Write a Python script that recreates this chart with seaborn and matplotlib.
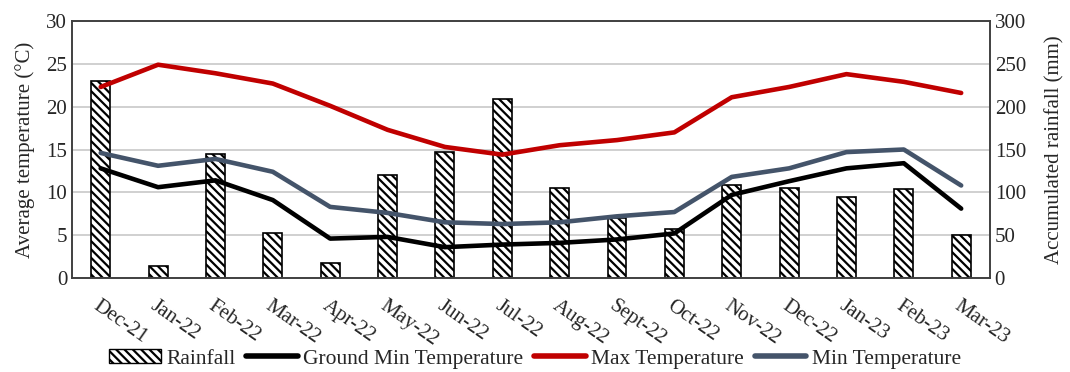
import numpy as np
import pandas as pd
import matplotlib
matplotlib.use("Agg")
import matplotlib.pyplot as plt
import seaborn as sns
from matplotlib.patches import Patch
from matplotlib.lines import Line2D

months = ["Dec-21", "Jan-22", "Feb-22", "Mar-22", "Apr-22", "May-22", "Jun-22", "Jul-22",
          "Aug-22", "Sept-22", "Oct-22", "Nov-22", "Dec-22", "Jan-23", "Feb-23", "Mar-23"]
rainfall = [230, 14, 145, 53, 18, 120, 147, 209, 105, 70, 57, 108, 105, 95, 104, 50]
ground_min = [12.8, 10.6, 11.4, 9.1, 4.6, 4.8, 3.6, 3.9, 4.1, 4.5, 5.2, 9.7, 11.3, 12.8, 13.4, 8.1]
max_temp = [22.3, 24.9, 23.9, 22.7, 20.1, 17.3, 15.3, 14.4, 15.5, 16.1, 17.0, 21.1, 22.3, 23.8, 22.9, 21.6]
min_temp = [14.6, 13.1, 13.9, 12.4, 8.3, 7.6, 6.5, 6.3, 6.5, 7.2, 7.7, 11.8, 12.8, 14.7, 15.0, 10.8]

sns.set_style("white")
plt.rcParams['font.family'] = ['Liberation Serif', 'DejaVu Serif']
plt.rcParams['hatch.linewidth'] = 1.6

df = pd.DataFrame({"month": months, "rain": rainfall, "ground": ground_min,
                   "tmax": max_temp, "tmin": min_temp})
df["pos"] = np.arange(len(months))

fig = plt.figure(figsize=(10.7, 3.72), dpi=100)
ax1 = fig.add_axes([0.0673, 0.2527, 0.8578, 0.6908])
ax2 = ax1.twinx()

# rainfall bars on the right axis, drawn below the lines
sns.barplot(data=df, x="month", y="rain", ax=ax2, color="white", edgecolor="black",
            linewidth=1.2, width=0.33, hatch="\\\\\\\\", saturation=1)
ax2.set_ylim(0, 300)
ax2.set_yticks(range(0, 301, 50))
ax2.yaxis.grid(True, color="#c8c8c8", linewidth=1.2)
ax2.set_axisbelow(True)
ax2.set_ylabel("Accumulated rainfall (mm)", fontsize=15, labelpad=14)
ax2.set_xlabel("")

line_colors = {"ground": "black", "tmax": "#C00000", "tmin": "#44546A"}
for col, c in line_colors.items():
    sns.lineplot(data=df, x="pos", y=col, ax=ax1, color=c, linewidth=3.3,
                 solid_joinstyle="round", solid_capstyle="round")

ax1.set_zorder(ax2.get_zorder() + 1)
ax1.patch.set_visible(False)
ax1.set_ylim(0, 30)
ax1.set_yticks(range(0, 31, 5))
ax1.set_ylabel("Average temperature (°C)", fontsize=15, labelpad=8)
ax1.set_xlabel("")
ax1.set_xlim(-0.5, len(months) - 0.5)

ax1.set_xticks(df["pos"])
ax1.set_xticklabels(months, rotation=-35, ha="left", rotation_mode="anchor", fontsize=15)
ax1.set_xticks(np.arange(-0.5, len(months)), minor=True)
ax1.tick_params(axis="x", which="major", length=0, pad=13)
ax1.tick_params(axis="x", which="minor", length=6, width=1, color="#404040", direction="out")
ax1.tick_params(axis="y", labelsize=15, length=0)
ax2.tick_params(axis="y", labelsize=15, length=0)
ax2.tick_params(axis="x", length=0, labelbottom=False)

for ax in (ax1, ax2):
    for s in ax.spines.values():
        s.set_color("#404040")
        s.set_linewidth(1.2)

handles = [Patch(facecolor="white", edgecolor="black", hatch="\\\\\\\\", label="Rainfall"),
           Line2D([], [], color="black", linewidth=4, solid_capstyle="round", label="Ground Min Temperature"),
           Line2D([], [], color="#C00000", linewidth=4, solid_capstyle="round", label="Max Temperature"),
           Line2D([], [], color="#44546A", linewidth=4, solid_capstyle="round", label="Min Temperature")]
fig.legend(handles=handles, loc="center", bbox_to_anchor=(0.5, 0.035), ncol=4, frameon=False,
           fontsize=15.5, handlelength=2.4, handleheight=0.6, handletextpad=0.25, columnspacing=0.5)

fig.savefig("out.png", dpi=100)
